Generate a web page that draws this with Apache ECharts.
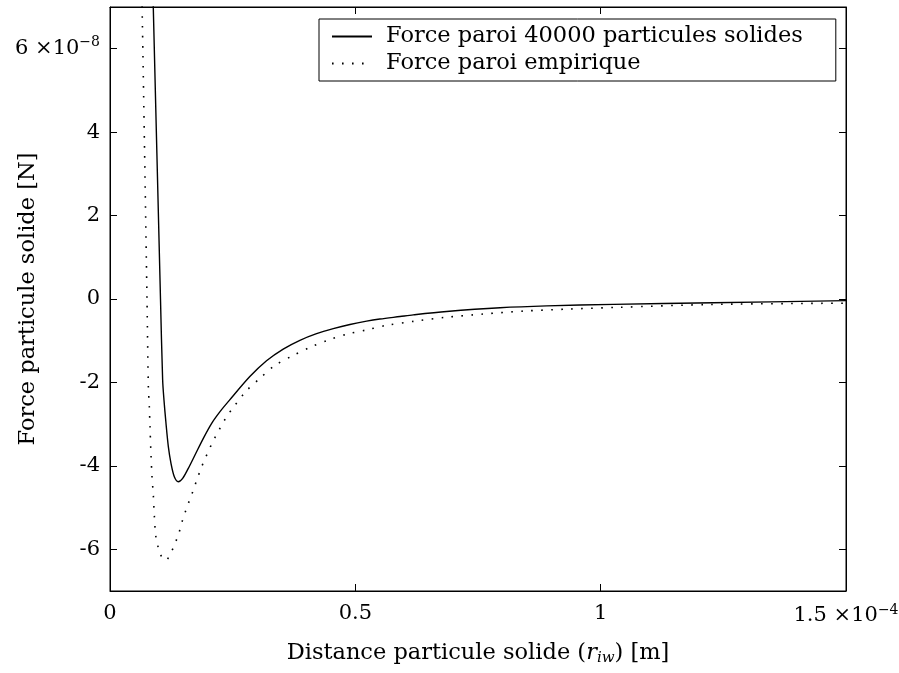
<!DOCTYPE html>
<html>
<head>
<meta charset="utf-8">
<script src="https://cdn.jsdelivr.net/npm/echarts@6/dist/echarts.min.js"></script>
<style>
  html, body { margin: 0; padding: 0; background: #fff; }
  #chart { width: 899px; height: 673px; }
</style>
</head>
<body>
<div id="chart"></div>
<script>
// distance in units of 1e-4 m, force in units of 1e-8 N
const solidDist = [0.0870, 0.0882, 0.1029, 0.1073, 0.1100, 0.1141, 0.1189, 0.1243, 0.1311, 0.1392, 0.1481, 0.1596, 0.1732, 0.1902, 0.2072, 0.2242, 0.2432, 0.285, 0.319, 0.353, 0.387, 0.421, 0.455, 0.489, 0.523, 0.550, 0.591, 0.618, 0.686, 0.795, 0.890, 1.026, 1.229, 1.5];
const solidForce = [7.5, 7.0, 0.0, -1.94, -2.42, -2.98, -3.54, -3.94, -4.26, -4.38, -4.30, -4.06, -3.74, -3.34, -2.98, -2.70, -2.43, -1.86, -1.48, -1.20, -0.99, -0.83, -0.71, -0.61, -0.53, -0.48, -0.42, -0.38, -0.30, -0.21, -0.165, -0.13, -0.09, -0.04];

const dotDist = [0.064, 0.0658, 0.0754, 0.0781, 0.0801, 0.0815, 0.0836, 0.0856, 0.0883, 0.0903, 0.0931, 0.0972, 0.1019, 0.1135, 0.1243, 0.1325, 0.140, 0.1453, 0.1514, 0.1583, 0.1651, 0.1718, 0.1787, 0.1855, 0.1936, 0.2018, 0.2093, 0.2195, 0.2297, 0.2399, 0.2513, 0.2765, 0.3057, 0.3363, 0.3723, 0.4076, 0.4457, 0.4836, 0.5231, 0.5639, 0.622, 0.683, 0.761, 0.842, 0.937, 1.036, 1.229, 1.5];
const dotForce = [7.5, 6.75, 0.0, -2.08, -2.58, -3.06, -3.74, -4.26, -4.70, -5.18, -5.66, -5.90, -6.11, -6.27, -6.08, -5.86, -5.63, -5.40, -5.18, -4.94, -4.74, -4.51, -4.28, -4.06, -3.83, -3.62, -3.42, -3.20, -2.98, -2.78, -2.60, -2.22, -1.90, -1.59, -1.36, -1.16, -0.98, -0.84, -0.74, -0.63, -0.53, -0.44, -0.36, -0.29, -0.24, -0.20, -0.13, -0.10];

const seriesNames = ['Force paroi 40000 particules solides', 'Force paroi empirique'];
const xRange = [0, 1.5];
const yRange = [-7, 7];

const FONT = 'DejaVu Serif';
const FS = 21;    // tick labels
const FS_T = 22.5; // legend and axis names

function pairs(xs, ys) {
  let out = [];
  xs.map(function (x, i) { out.push([x, ys[i]]); });
  return out;
}

const chart = echarts.init(document.getElementById('chart'), null, { renderer: 'canvas' });

const richExp = {
  sup: { fontFamily: FONT, fontSize: 14, color: '#000', padding: [0, 0, 12, 0] }
};

const option = {
  animation: false,
  backgroundColor: '#fff',
  textStyle: { fontFamily: FONT, color: '#000' },
  grid: {
    left: 110, right: 53, top: 7, bottom: 82,
    containLabel: false, outerBoundsMode: 'none',
    show: true, borderColor: '#000', borderWidth: 1
  },
  legend: {
    orient: 'vertical',
    left: 319, top: 19,
    padding: [5, 33, 5, 12],
    itemGap: 2,
    itemWidth: 40,
    itemHeight: 2,
    itemStyle: { opacity: 0 },
    borderColor: '#000',
    borderWidth: 1,
    backgroundColor: '#fff',
    textStyle: { fontFamily: FONT, fontSize: FS_T, color: '#000', lineHeight: 25, padding: [0, 0, 0, 9] },
    data: seriesNames
  },
  xAxis: [{
    type: 'value',
    min: xRange[0], max: xRange[1],
    splitNumber: 3,
    name: 'Distance particule solide ({i|r}{sub|iw}) [m]',
    nameLocation: 'middle',
    nameGap: 50,
    nameMoveOverlap: false,
    nameTextStyle: {
      fontFamily: FONT, fontSize: FS_T, color: '#000',
      rich: {
        i: { fontFamily: FONT, fontSize: FS_T, fontStyle: 'italic', color: '#000' },
        sub: { fontFamily: FONT, fontSize: 15, fontStyle: 'italic', color: '#000', padding: [10, 0, 0, 0] }
      }
    },
    axisLine: { show: true, onZero: false, lineStyle: { color: '#000', width: 1 } },
    axisTick: { show: true, inside: true, length: 7, lineStyle: { color: '#000' } },
    splitLine: { show: false },
    axisLabel: {
      margin: 12, fontFamily: FONT, fontSize: FS, color: '#000',
      formatter: function (v) {
        if (v === 1.5) return '1.5 ×10{sup|−4}';
        return String(v);
      },
      rich: richExp
    }
  }, {
    type: 'value', position: 'top',
    min: xRange[0], max: xRange[1], splitNumber: 3,
    axisLine: { show: true, onZero: false, lineStyle: { color: '#000', width: 1 } },
    axisTick: { show: true, inside: true, length: 7, lineStyle: { color: '#000' } },
    axisLabel: { show: false },
    splitLine: { show: false }
  }],
  yAxis: [{
    type: 'value',
    min: yRange[0], max: yRange[1],
    splitNumber: 7,
    name: 'Force particule solide [N]',
    nameLocation: 'middle',
    nameGap: 70,
    nameMoveOverlap: false,
    nameTextStyle: { fontFamily: FONT, fontSize: FS_T, color: '#000' },
    axisLine: { show: true, onZero: false, lineStyle: { color: '#000', width: 1 } },
    axisTick: { show: true, inside: true, length: 7, lineStyle: { color: '#000' } },
    splitLine: { show: false },
    axisLabel: {
      margin: 10, fontFamily: FONT, fontSize: FS, color: '#000',
      showMinLabel: false, showMaxLabel: false,
      formatter: function (v) {
        if (v === 7 || v === -7) return '';
        if (v === 6) return '6 ×10{sup|−8}';
        return String(v);
      },
      rich: richExp
    }
  }, {
    type: 'value', position: 'right',
    min: yRange[0], max: yRange[1], splitNumber: 7,
    axisLine: { show: true, onZero: false, lineStyle: { color: '#000', width: 1 } },
    axisTick: { show: true, inside: true, length: 7, lineStyle: { color: '#000' } },
    axisLabel: { show: false },
    splitLine: { show: false }
  }],
  series: [{
    name: seriesNames[0],
    type: 'line',
    xAxisIndex: 0, yAxisIndex: 0,
    data: pairs(solidDist, solidForce),
    symbol: 'none',
    smooth: 0.3,
    clip: true,
    color: '#000',
    lineStyle: { color: '#000', width: 1.4 }
  }, {
    name: seriesNames[1],
    type: 'line',
    xAxisIndex: 0, yAxisIndex: 0,
    data: pairs(dotDist, dotForce),
    symbol: 'none',
    smooth: 0.3,
    clip: true,
    color: '#000',
    lineStyle: { color: '#000', width: 1.6, type: [1.6, 8.4], cap: 'butt' }
  }]
};

chart.setOption(option);
</script>
</body>
</html>
